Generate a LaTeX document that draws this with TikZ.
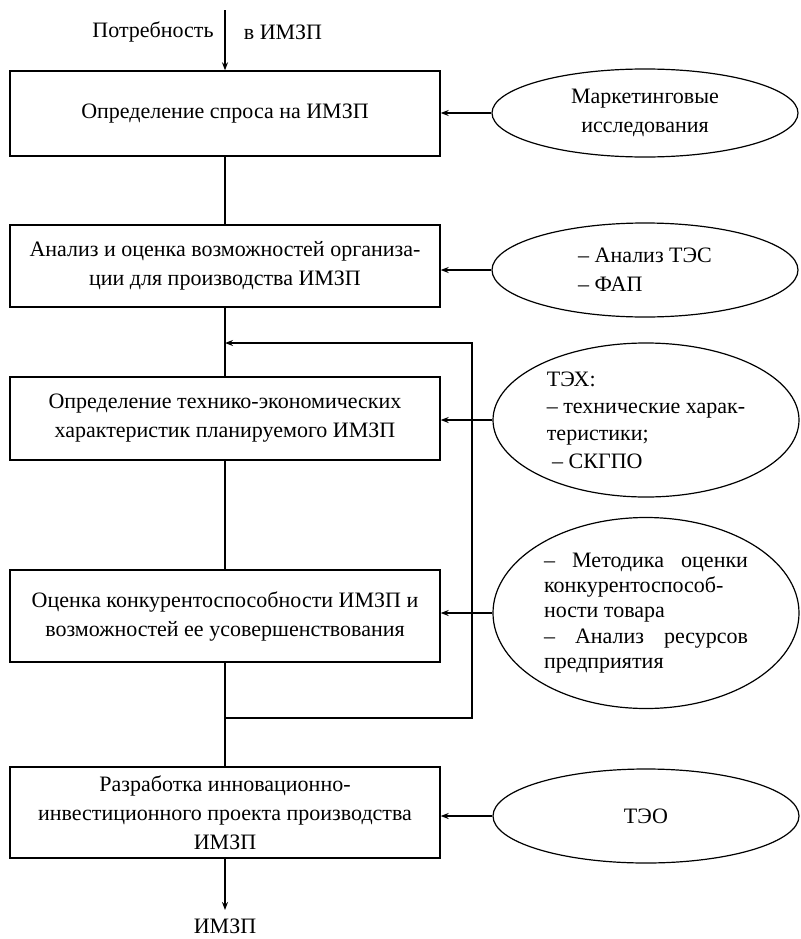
\documentclass[tikz,border=0pt]{standalone}
\usepackage{fontspec}
\setmainfont{Liberation Serif}
\usetikzlibrary{shapes.geometric,arrows.meta}
\begin{document}
\begin{tikzpicture}[x=0.75pt,y=-0.75pt,
  every node/.style={font=\fontsize{16.5}{21.75}\selectfont},
  box/.style={draw,line width=1pt,minimum width=322.5pt,inner sep=0pt,align=center},
  oval/.style={draw,ellipse,line width=0.9pt,minimum width=229.5pt,inner sep=0pt},
  conn/.style={line width=1pt},
  arr/.style={line width=1pt,-{Stealth[length=6pt,width=4.5pt]}}]
\useasboundingbox (0,0) rectangle (800,939);
% boxes
\node[box,minimum height=63.75pt] (b1) at (225,113.5) {Определение спроса на ИМЗП};
\node[box,minimum height=61.5pt] (b2) at (225,266) {Анализ и оценка возможностей организа-\\ции для производства ИМЗП};
\node[box,minimum height=62.25pt] (b3) at (225,418.5) {Определение технико-экономических\\характеристик планируемого ИМЗП};
\node[box,minimum height=69pt] (b4) at (225,616) {Оценка конкурентоспособности ИМЗП и\\возможностей ее усовершенствования};
\node[box,minimum height=68.25pt] (b5) at (225,812.5) {Разработка инновационно-\\инвестиционного проекта производства\\ИМЗП};
% ellipses
\node[oval,minimum height=66pt,align=center] (e1) at (645,113) {Маркетинговые\\исследования};
\node[oval,minimum height=70.5pt,align=left] (e2) at (645,270) {– Анализ ТЭС\\– ФАП};
\node[oval,minimum height=115.5pt,align=left,font=\fontsize{16.5}{20.5}\selectfont] (e3) at (646,420) {ТЭХ:\\– технические харак-\\теристики;\\\hspace*{4pt}– СКГПО};
\node[oval,minimum height=143.25pt,align=left,font=\fontsize{16.5}{19}\selectfont] (e4) at (646,613) {\hbox to 153pt{–\hfill Методика\hfill оценки}\\конкурентоспособ-\\ности товара\\\hbox to 153pt{–\hfill Анализ\hfill ресурсов}\\предприятия};
\node[oval,minimum height=70.5pt] (e5) at (646,816) {ТЭО};
% top input
\coordinate (top) at (225,10);
\node (need) at (153,32) {Потребность};
\node (need2) at (283,32) {в ИМЗП};
\draw[arr] (top) -- (b1);
% chain
\draw[conn] (b1) -- (b2);
\draw[conn] (b2) -- (b3);
\draw[conn] (b3) -- (b4);
\draw[conn] (b4) -- (b5);
% feedback loop
\coordinate (fa) at (225,718);
\coordinate (fb) at (472,718);
\coordinate (fc) at (472,343);
\coordinate (fd) at (225,343);
\draw[arr] (fa) -- (fb) -- (fc) -- (fd);
% ellipse arrows
\draw[arr] (e1.west) -- (e1.west -| b1.east);
\draw[arr] (e2.west) -- (e2.west -| b2.east);
\draw[arr] (e3.west) -- (e3.west -| b3.east);
\draw[arr] (e4.west) -- (e4.west -| b4.east);
\draw[arr] (e5.west) -- (e5.west -| b5.east);
% output
\coordinate (bot) at (225,910);
\draw[arr] (b5) -- (bot);
\node[inner sep=0pt] (out) at (225,926) {ИМЗП};
\end{tikzpicture}
\end{document}
